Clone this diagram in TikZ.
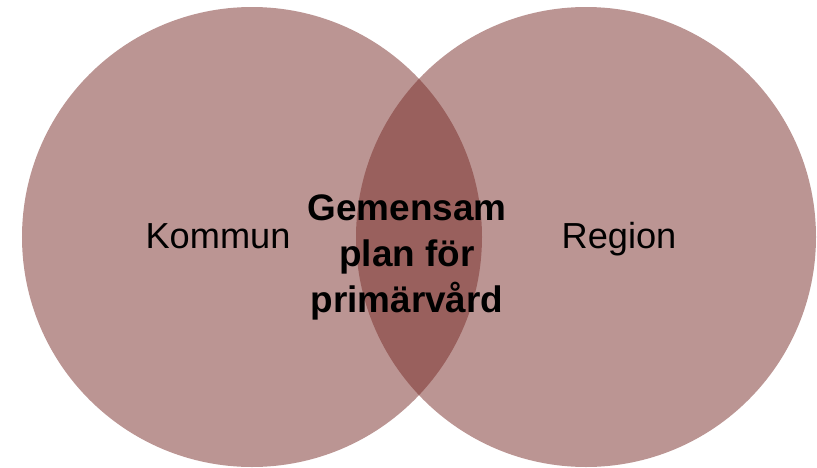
\documentclass[tikz,border=0pt]{standalone}
\usepackage{fontspec}
\setmainfont{Liberation Sans}
\definecolor{vennred}{RGB}{120,44,40}
\begin{document}
\begin{tikzpicture}
\useasboundingbox (0,0) rectangle (16.34,9.34);
% Circles
\fill[vennred,fill opacity=0.5] (5.04,4.6) circle (4.6);
\fill[vennred,fill opacity=0.5] (11.72,4.6) circle (4.6);
% Labels
\node[anchor=base] (kommun) at (4.36,4.38) {\fontsize{20.6pt}{24pt}\selectfont Kommun};
\node[anchor=base] (region) at (12.38,4.38) {\fontsize{20.6pt}{24pt}\selectfont Region};
\node[align=center,font=\fontsize{21pt}{26.4pt}\selectfont\bfseries] (plan) at (8.14,4.19) {Gemensam\\plan för\\primärvård};
\end{tikzpicture}
\end{document}
